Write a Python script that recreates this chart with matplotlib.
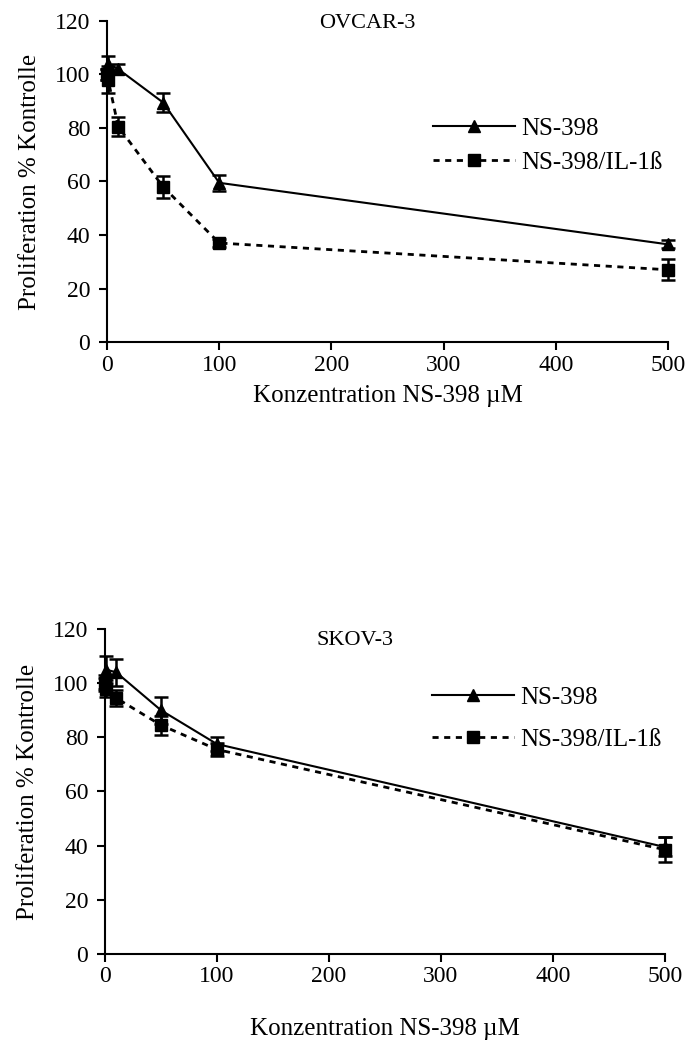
import matplotlib
matplotlib.use("Agg")
import matplotlib.pyplot as plt
from matplotlib.lines import Line2D

plt.rcParams['font.family'] = ['Liberation Serif', 'DejaVu Serif']

conc = [0, 1, 10, 50, 100, 500]

# OVCAR-3
ov_ns = [100, 104, 102, 89.5, 59.5, 36.5]
ov_ns_err = [2, 3, 2, 3.5, 3, 1.5]
ov_il = [100, 98, 80.5, 58, 37, 27]
ov_il_err = [2, 5, 3.5, 4, 1.5, 4]

# SKOV-3
sk_ns = [100, 105, 104, 90, 77.5, 39.5]
sk_ns_err = [3, 5, 5, 5, 2.5, 3.5]
sk_il = [100, 98, 94.5, 84.5, 75.5, 38.5]
sk_il_err = [2, 3, 3, 3.5, 2.5, 4.5]

titles = ["OVCAR-3", "SKOV-3"]
series_labels = ["NS-398", "NS-398/IL-1ß"]
xticks = [0, 100, 200, 300, 400, 500]
yticks = [0, 20, 40, 60, 80, 100, 120]

fig = plt.figure(figsize=(6.86, 10.46), dpi=100)
ax1 = fig.add_axes([0.156, 0.673, 0.818, 0.307])
ax2 = fig.add_axes([0.153, 0.088, 0.816, 0.3107])

DASH = (0, (2.2, 2.0))

configs = [
    dict(ax=ax1, ns=ov_ns, nse=ov_ns_err, il=ov_il, ile=ov_il_err, title=titles[0],
         tpos=(0.463, 0.993), leg=(0.541, 0.612), spacing=0.45, xlp=7),
    dict(ax=ax2, ns=sk_ns, nse=sk_ns_err, il=sk_il, ile=sk_il_err, title=titles[1],
         tpos=(0.446, 0.963), leg=(0.544, 0.724), spacing=0.8, xlp=22),
]

for c in configs:
    ax = c['ax']
    h1 = ax.errorbar(conc, c['ns'], yerr=c['nse'], color='black', lw=1.5, marker='^', ms=9,
                     capsize=5, capthick=1.8, elinewidth=1.8, clip_on=False, zorder=3)
    h2 = ax.errorbar(conc, c['il'], yerr=c['ile'], color='black', lw=2.0, ls=DASH,
                     marker='s', ms=8, capsize=5, capthick=1.8, elinewidth=1.8,
                     clip_on=False, zorder=3)
    for h in (h1, h2):
        for art in h.lines[1]:
            art.set_clip_on(False)
        for art in h.lines[2]:
            art.set_clip_on(False)
    ax.set_xlim(0, 500)
    ax.set_ylim(0, 120)
    ax.set_xticks(xticks)
    ax.set_yticks(yticks)
    ax.spines['top'].set_visible(False)
    ax.spines['right'].set_visible(False)
    ax.spines['left'].set_linewidth(1.5)
    ax.spines['bottom'].set_linewidth(1.5)
    ax.tick_params(direction='out', length=6, width=1.5, labelsize=17)
    ax.tick_params(axis='x', pad=3)
    ax.tick_params(axis='y', pad=6)
    ax.set_xlabel("Konzentration NS-398 µM", fontsize=18, labelpad=c['xlp'])
    ax.set_ylabel("Proliferation % Kontrolle", fontsize=18, labelpad=10)
    ax.text(c['tpos'][0], c['tpos'][1], c['title'], transform=ax.transAxes,
            ha='center', va='center', fontsize=16)
    p1 = Line2D([], [], color='black', lw=1.5, marker='^', ms=9)
    p2 = Line2D([], [], color='black', lw=2.0, ls=DASH, marker='s', ms=8)
    ax.legend(handles=[p1, p2], labels=series_labels, loc='center left',
              bbox_to_anchor=c['leg'], frameon=False, fontsize=18,
              handlelength=3.28, handletextpad=0.25, labelspacing=c['spacing'])

fig.savefig("out.png", dpi=100)
